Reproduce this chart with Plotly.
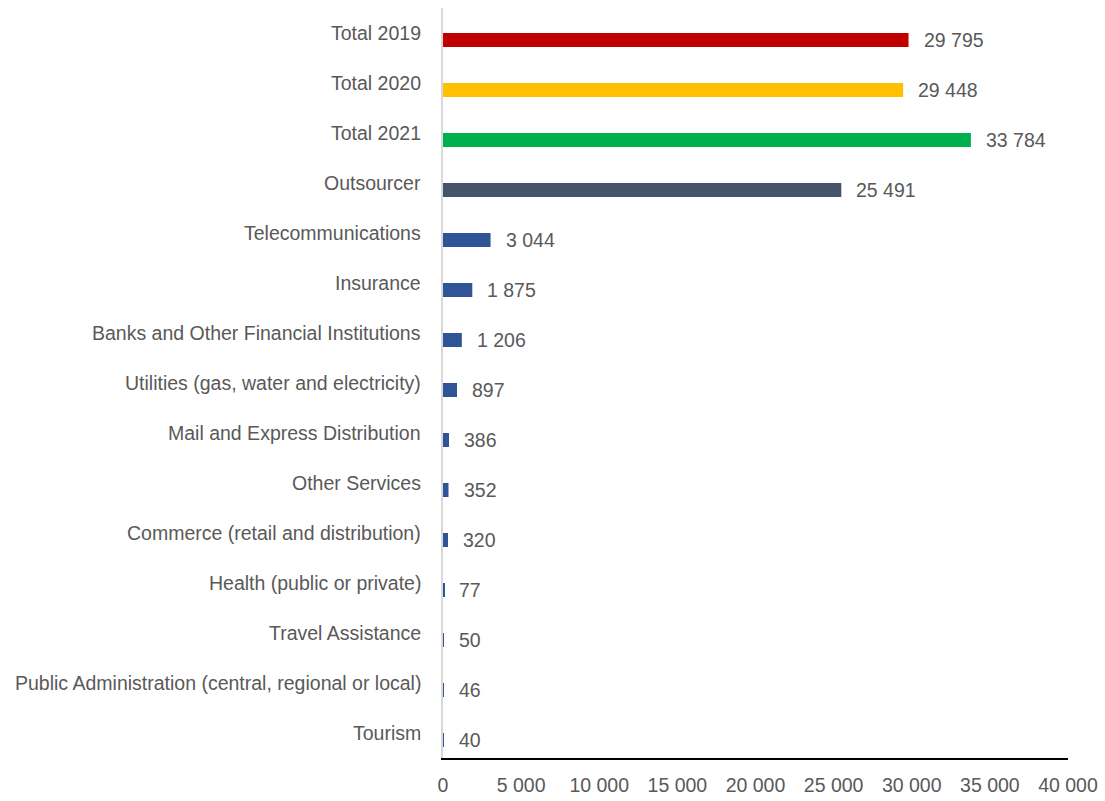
import plotly.graph_objects as go

# Categories listed top to bottom
categories = [
    "Total 2019",
    "Total 2020",
    "Total 2021",
    "Outsourcer",
    "Telecommunications",
    "Insurance",
    "Banks and Other Financial Institutions",
    "Utilities (gas, water and electricity)",
    "Mail and Express Distribution",
    "Other Services",
    "Commerce (retail and distribution)",
    "Health (public or private)",
    "Travel Assistance",
    "Public Administration (central, regional or local)",
    "Tourism",
]
values = [29795, 29448, 33784, 25491, 3044, 1875, 1206, 897, 386, 352, 320, 77, 50, 46, 40]
bar_colors = [
    "#C00000", "#FFC000", "#00B050", "#44546A",
    "#2F5597", "#2F5597", "#2F5597", "#2F5597", "#2F5597",
    "#2F5597", "#2F5597", "#2F5597", "#2F5597", "#2F5597", "#2F5597",
]
x_ticks = [0, 5000, 10000, 15000, 20000, 25000, 30000, 35000, 40000]


def fmt(v):
    return f"{v:,}".replace(",", " ")


FONT = "Liberation Sans, Arial, sans-serif"
TEXT = "#595959"
SIZE = 19.5

pos = list(range(len(categories)))

fig = go.Figure(
    go.Bar(
        x=values,
        y=pos,
        orientation="h",
        width=0.28,
        marker=dict(color=bar_colors, line=dict(width=0)),
        hoverinfo="skip",
    )
)

annotations = []
for p, cat, v in zip(pos, categories, values):
    # category label to the left of the axis
    annotations.append(dict(
        x=0, xref="paper", y=p, yref="y", text=cat, showarrow=False,
        xanchor="right", yanchor="middle", xshift=-20, yshift=7,
        font=dict(family=FONT, size=SIZE, color=TEXT),
    ))
    # value label at the bar end
    annotations.append(dict(
        x=v, xref="x", y=p, yref="y", text=fmt(v), showarrow=False,
        xanchor="left", yanchor="middle", xshift=13, yshift=0,
        font=dict(family=FONT, size=SIZE, color=TEXT),
    ))

fig.update_layout(
    width=1105,
    height=801,
    margin=dict(l=443, r=37, t=8, b=43, autoexpand=False),
    paper_bgcolor="white",
    plot_bgcolor="white",
    showlegend=False,
    annotations=annotations,
    xaxis=dict(
        range=[0, 40000],
        tickvals=x_ticks,
        ticktext=[fmt(t) for t in x_ticks],
        showgrid=False,
        zeroline=False,
        showline=True,
        linecolor="#000000",
        linewidth=2,
        ticks="",
        ticklabelstandoff=9,
        automargin=False,
        tickfont=dict(family=FONT, size=SIZE, color=TEXT),
        fixedrange=True,
    ),
    yaxis=dict(
        range=[14.36, -0.64],
        showticklabels=False,
        showgrid=False,
        zeroline=False,
        showline=True,
        linecolor="#D9D9D9",
        linewidth=2,
        ticks="",
        automargin=False,
        fixedrange=True,
    ),
)

fig.write_html("out.html")
